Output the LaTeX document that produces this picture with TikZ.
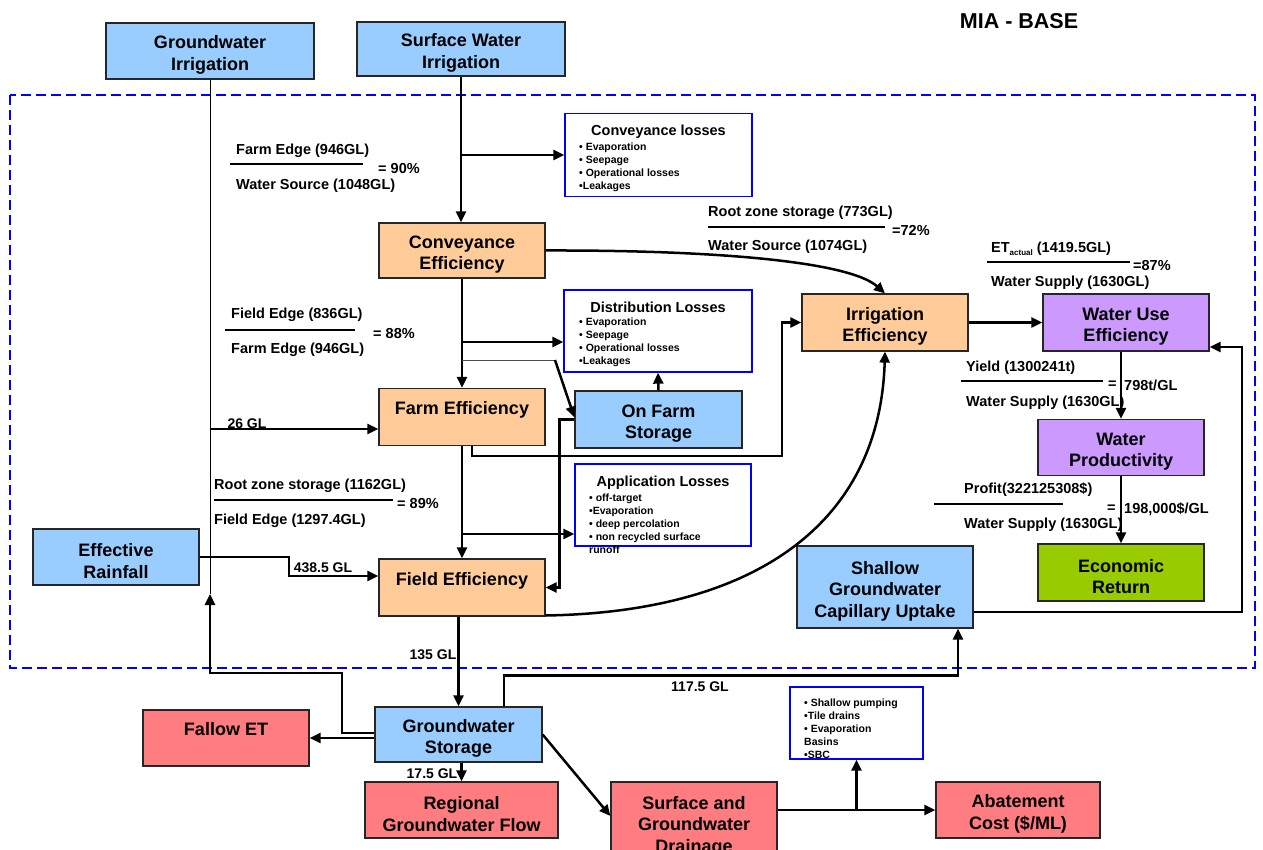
\documentclass[tikz,border=0pt]{standalone}
\usepackage{fontspec}
\setmainfont{Liberation Sans}
\usetikzlibrary{arrows.meta,calc}
\definecolor{cblue}{HTML}{99CCFF}
\definecolor{corange}{HTML}{FFCC99}
\definecolor{cpurple}{HTML}{CC99FF}
\definecolor{cgreen}{HTML}{99CC00}
\definecolor{cred}{HTML}{FF7C80}
\definecolor{dashblue}{HTML}{0000FF}
\newcommand{\bxstrut}{\rule{0pt}{21pt}}
\tikzset{
  bx/.style={draw=black!85, line width=1.2pt, align=center, inner sep=0pt, font=\bfseries\fontsize{18}{21.5}\selectfont},
  bluebx/.style={bx, fill=cblue},
  orbx/.style={bx, fill=corange},
  pubx/.style={bx, fill=cpurple},
  grbx/.style={bx, fill=cgreen},
  redbx/.style={bx, fill=cred},
  lossbox/.style={draw=dashblue, line width=1.3pt, fill=white, inner sep=0pt},
  ttl/.style={font=\bfseries\fontsize{14.5}{17}\selectfont, inner sep=0pt},
  lst/.style={font=\bfseries\fontsize{10.5}{13}\selectfont, align=left, inner sep=0pt, anchor=north west},
  fml/.style={font=\bfseries\fontsize{14.5}{17}\selectfont, inner sep=0pt, anchor=west},
  lbl/.style={font=\bfseries\fontsize{14}{16}\selectfont, inner sep=0pt},
  arr/.style={line width=2.5pt, -{Triangle[length=11pt,width=10pt]}},
  thinln/.style={line width=1pt},
  fracln/.style={line width=1.2pt},
}
\begin{document}
\begin{tikzpicture}[x=1pt,y=-1pt]
\useasboundingbox (0,0) rectangle (1263,850);
\clip (0,0) rectangle (1263,850);
\fill[white] (0,0) rectangle (1263,850);
% dashed frame
\draw[dashblue, line width=2.5pt, dash pattern=on 10pt off 5pt] (10,95) rectangle (1255,668);
% title
\node[font=\bfseries\fontsize{21.5}{24}\selectfont, inner sep=0pt] (mia) at (1019,21) {MIA - BASE};
% boxes
\node[bluebx, minimum width=208, minimum height=56] (gwi) at (210,51) {\bxstrut Groundwater\\Irrigation};
\node[bluebx, minimum width=208, minimum height=54] (swi) at (461,49) {\bxstrut Surface Water\\Irrigation};
\node[orbx, minimum width=166, minimum height=55] (ce) at (462,250.5) {\bxstrut Conveyance\\Efficiency};
\node[orbx, minimum width=166, minimum height=57] (ie) at (885,322.5) {\bxstrut Irrigation\\Efficiency};
\node[pubx, minimum width=166, minimum height=57] (wue) at (1126,322.5) {\bxstrut Water Use\\Efficiency};
\node[bluebx, minimum width=167, minimum height=57] (ofs) at (658.5,419.5) {\bxstrut On Farm\\Storage};
\node[orbx, minimum width=166, minimum height=57] (fe) at (462,417) {\bxstrut Farm Efficiency\\\phantom{g}};
\node[bluebx, minimum width=166, minimum height=56] (er) at (116,557) {\bxstrut Effective\\Rainfall};
\node[orbx, minimum width=166, minimum height=57] (fi) at (462,587.5) {\bxstrut Field Efficiency\\\phantom{g}};
\node[bluebx, minimum width=176, minimum height=82] (sg) at (885,587) {\bxstrut Shallow\\Groundwater\\Capillary Uptake};
\node[pubx, minimum width=166, minimum height=56] (wp) at (1121,447.5) {\bxstrut Water\\Productivity};
\node[grbx, minimum width=166, minimum height=57] (eco) at (1121,572.5) {\bxstrut Economic\\Return};
\node[bluebx, minimum width=167, minimum height=55] (gws) at (458.5,734.5) {\bxstrut Groundwater\\Storage};
\node[redbx, minimum width=166, minimum height=56] (fallow) at (226,738) {\bxstrut Fallow ET\\\phantom{g}};
\node[redbx, minimum width=193, minimum height=56] (rgf) at (461.5,810) {\bxstrut Regional\\Groundwater Flow};
\node[redbx, minimum width=166, minimum height=80] (dr) at (694,822) {\bxstrut Surface and\\Groundwater\\Drainage};
\node[redbx, minimum width=164, minimum height=56] (ac) at (1018,810) {\bxstrut Abatement\\Cost (\$/ML)};
% loss boxes
\node[lossbox, minimum width=187, minimum height=83] (cl) at (658.5,155) {};
\node[ttl] (clt) at (658.5,132) {Conveyance losses};
\node[lst] (cll) at (579,142.5) {• Evaporation\\• Seepage\\• Operational losses\\•Leakages};
\node[lossbox, minimum width=188, minimum height=82] (dl) at (658,331) {};
\node[ttl] (dlt) at (658,307) {Distribution Losses};
\node[lst] (dll) at (579,317.5) {• Evaporation\\• Seepage\\• Operational losses\\•Leakages};
\node[lossbox, minimum width=176, minimum height=82] (al) at (663,505) {};
\node[ttl] (alt) at (663,483) {Application Losses};
\node[lst] (all) at (589,493.5) {• off-target\\•Evaporation\\• deep percolation\\• non recycled surface\\runoff};
\node[lossbox, minimum width=133, minimum height=72] (sb) at (856.5,723) {};
\node[lst] (sbl) at (804,698.5) {• Shallow pumping\\•Tile drains\\• Evaporation\\Basins\\•SBC};
% formulas
\node[fml] (f1n) at (236,151) {Farm Edge (946GL)};
\draw[fracln] (230,164) -- (363,164);
\node[fml] (f1e) at (378,169) {= 90\%};
\node[fml] (f1d) at (236,186) {Water Source (1048GL)};
\node[fml] (f2n) at (708,213) {Root zone storage (773GL)};
\draw[fracln] (708,227) -- (885,227);
\node[fml] (f2e) at (892,230) {=72\%};
\node[fml] (f2d) at (708,247) {Water Source (1074GL)};
\node[fml] (f3n) at (991,249) {ET{\fontsize{8}{8}\selectfont\raisebox{-2.5pt}{actual}} (1419.5GL)};
\draw[fracln] (987,262) -- (1130,262);
\node[fml] (f3e) at (1133,266) {=87\%};
\node[fml] (f3d) at (991,283) {Water Supply (1630GL)};
\node[fml] (f4n) at (231,315) {Field Edge (836GL)};
\draw[fracln] (225,330) -- (355,330);
\node[fml] (f4e) at (373,334) {= 88\%};
\node[fml] (f4d) at (231,350) {Farm Edge (946GL)};
\node[fml] (f5n) at (214,486) {Root zone storage (1162GL)};
\draw[fracln] (214,500) -- (393,500);
\node[fml] (f5e) at (397,504) {= 89\%};
\node[fml] (f5d) at (214,521) {Field Edge (1297.4GL)};
\node[fml] (f6n) at (966,368) {Yield (1300241t)};
\draw[fracln] (961,381) -- (1103,381);
\node[fml] (f6e) at (1108,385) {=};
\node[fml] (f6v) at (1124,385) {798t/GL};
\node[fml] (f6d) at (966,403) {Water Supply (1630GL)};
\node[fml] (f7n) at (964,490) {Profit(322125308\$)};
\draw[fracln] (934,504) -- (1063,504);
\node[fml] (f7e) at (1107,509) {=};
\node[fml] (f7v) at (1124,509) {198,000\$/GL};
\node[fml] (f7d) at (964,525) {Water Supply (1630GL)};
% labels
\node[lbl] (l26) at (247,424) {26 GL};
\node[lbl] (l438) at (323,568) {438.5 GL};
\node[lbl] (l135) at (433,655) {135 GL};
\node[lbl] (l117) at (700,687) {117.5 GL};
\node[lbl] (l175) at (432,774) {17.5 GL};
% coordinates
\coordinate (b1) at (462,360);
\coordinate (b1e) at (555,360);
\coordinate (c1) at (782,456);
\coordinate (c2) at (1242,347);
\coordinate (c3) at (210,594);
\coordinate (b3) at (210,429);
\coordinate (c4) at (289,557);
\coordinate (c5) at (342,673);
% connectors
\draw[arr] (swi.south) -- (swi.south |- ce.north);
\draw[arr] (swi.south |- cl.west) -- (cl.west);
\draw[arr] (ce.east) .. controls (720,250) and (850,262) .. (ie.north);
\draw[arr] (ce.south) -- (fe.north);
\draw[arr] ($(ce.south |- dl.west)+(0,11)$) -- ($(dl.west)+(0,11)$);
\draw[thinln, black!70] (b1) -- (b1e);
\draw[arr] (b1e) -- ($(ofs.west)+(0,-2)$);
\draw[arr] (ofs.north) -- (dl.south);
\draw[arr] (ofs.west) -- ++(-15,0) |- (fi.east);
\draw[arr] ($(fe.south)+(10,0)$) |- (c1) |- (ie.west);
\draw[arr] (fe.south) -- (fi.north);
\draw[arr] ($(fe.south |- al.west)+(0,29)$) -- ($(al.west)+(0,29)$);
\draw[arr] ($(fi.east)+(0,28)$) .. controls (760,612) and (880,520) .. (ie.south);
\draw[arr] (ie.east) -- (wue.west);
\draw[arr] (wp.north |- wue.south) -- (wp.north);
\draw[arr] (wp.south) -- (eco.north);
\draw[arr] ($(sg.east)+(0,25)$) -| (c2) -- ($(wue.east)+(0,24.5)$);
\draw[thinln] (gwi.south) -- (c3);
\draw[arr] (b3) -- ($(fe.west)+(0,12)$);
\draw[arr] (er.east) -- (c4) |- ($(fi.west)+(0,-11.5)$);
\draw[arr] ($(gws.west)+(0,-1.5)$) -| (c5) -| (c3);
\draw[arr] (gws.west |- fallow.east) -- (fallow.east);
\draw[arr] (gws.north |- fi.south) -- (gws.north);
\draw[arr] ($(gws.north)+(45.5,0)$) |- ($(sg.south)+(73,47)$) -- ($(sg.south)+(73,0)$);
\draw[arr] (rgf.north |- gws.south) -- (rgf.north);
\draw[arr] (gws.east) -- ($(dr.west)+(0,-6)$);
\draw[arr] (dr.east |- ac.west) -- (ac.west);
\draw[arr] (sb.south |- ac.west) -- (sb.south);
\end{tikzpicture}
\end{document}
